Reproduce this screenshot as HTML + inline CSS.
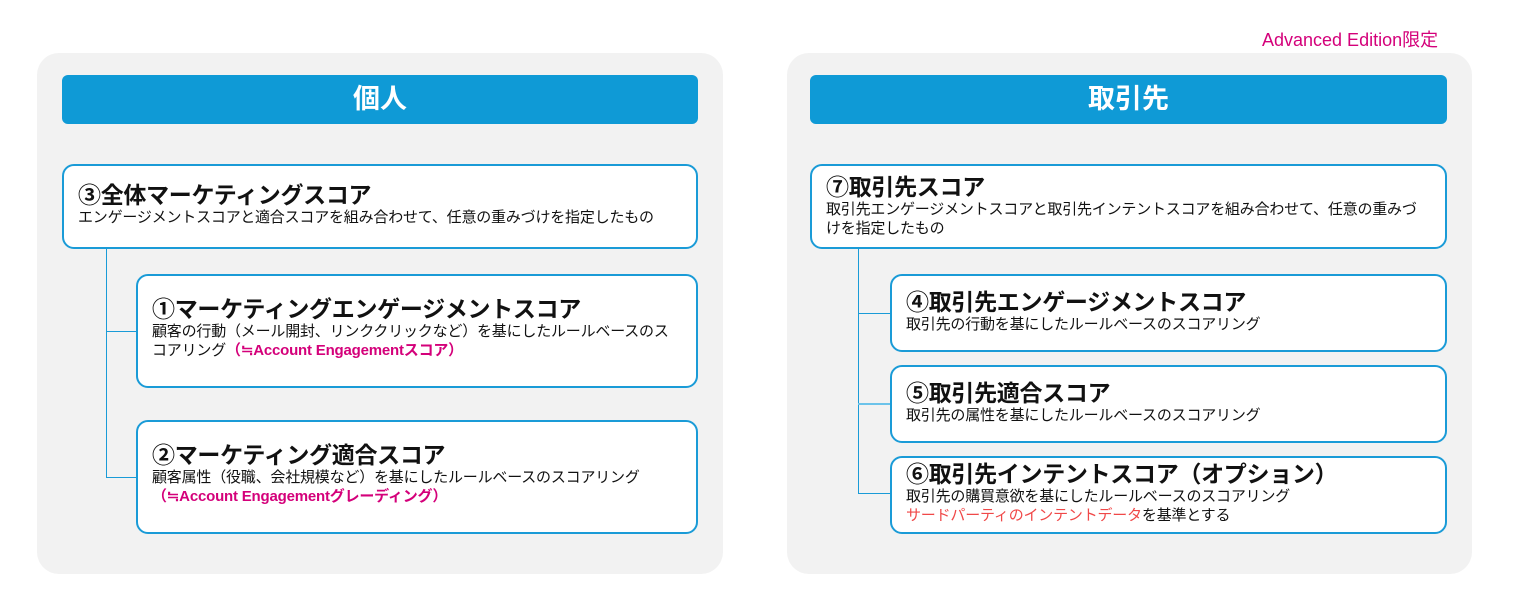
<!DOCTYPE html>
<html><head><meta charset="utf-8"><style>
body{margin:0;width:1524px;height:610px;background:#fff;position:relative;font-family:"Liberation Sans","Noto Sans CJK JP",sans-serif;overflow:hidden}
.a{position:absolute;box-sizing:border-box}
.panel{background:#f2f2f2;border-radius:22px}
.hd{background:#0f9ad6;border-radius:6px;color:#fff;font-weight:bold;font-size:27px;text-align:center;line-height:48px}
.bx{background:#fff;border:2px solid #1a9bd7;border-radius:12px;padding-left:14px;color:#111}
.t{font-weight:bold;font-size:23px;line-height:25px;white-space:nowrap;letter-spacing:-0.3px}
.d{font-size:15px;line-height:19px;letter-spacing:-0.2px}
.pk{color:#d4007a;font-weight:bold}
.rd{color:#f04848}
.ln{background:#1a9bd7}
</style></head><body>
<div class="a" style="left:1262px;top:26px;color:#d4007a;font-size:18px">Advanced Edition限定</div>
<div class="a panel" style="left:37px;top:53px;width:686px;height:521px"></div>
<div class="a panel" style="left:787px;top:53px;width:685px;height:521px"></div>
<div class="a hd" style="left:62px;top:75px;width:636px;height:49px">個人</div>
<div class="a hd" style="left:810px;top:75px;width:637px;height:49px">取引先</div>

<div class="a ln" style="left:106px;top:248px;width:1px;height:230px"></div>
<div class="a ln" style="left:106px;top:331px;width:30px;height:1px"></div>
<div class="a ln" style="left:106px;top:477px;width:30px;height:1px"></div>
<div class="a ln" style="left:858px;top:248px;width:1px;height:246px"></div>
<div class="a ln" style="left:858px;top:313px;width:32px;height:1px"></div>
<div class="a ln" style="left:858px;top:403px;width:32px;height:2px;background:#6cc3ea"></div>
<div class="a ln" style="left:858px;top:493px;width:32px;height:1px"></div>

<div class="a bx" style="left:62px;top:164px;width:636px;height:85px;padding-top:17px">
<div class="t">③全体マーケティングスコア</div><div class="d">エンゲージメントスコアと適合スコアを組み合わせて、任意の重みづけを指定したもの</div></div>
<div class="a bx" style="left:136px;top:274px;width:562px;height:114px;padding-top:21px;padding-right:20px">
<div class="t">①マーケティングエンゲージメントスコア</div><div class="d">顧客の行動（メール開封、リンククリックなど）を基にしたルールベースのスコアリング<span class="pk">（≒Account Engagementスコア）</span></div></div>
<div class="a bx" style="left:136px;top:420px;width:562px;height:114px;padding-top:21px">
<div class="t">②マーケティング適合スコア</div><div class="d">顧客属性（役職、会社規模など）を基にしたルールベースのスコアリング<br><span class="pk">（≒Account Engagementグレーディング）</span></div></div>

<div class="a bx" style="left:810px;top:164px;width:637px;height:85px;padding-top:9px;padding-right:20px">
<div class="t">⑦取引先スコア</div><div class="d">取引先エンゲージメントスコアと取引先インテントスコアを組み合わせて、任意の重みづけを指定したもの</div></div>
<div class="a bx" style="left:890px;top:274px;width:557px;height:78px;padding-top:14px">
<div class="t">④取引先エンゲージメントスコア</div><div class="d">取引先の行動を基にしたルールベースのスコアリング</div></div>
<div class="a bx" style="left:890px;top:365px;width:557px;height:78px;padding-top:14px">
<div class="t">⑤取引先適合スコア</div><div class="d">取引先の属性を基にしたルールベースのスコアリング</div></div>
<div class="a bx" style="left:890px;top:456px;width:557px;height:78px;padding-top:4px">
<div class="t">⑥取引先インテントスコア（オプション）</div><div class="d">取引先の購買意欲を基にしたルールベースのスコアリング<br><span class="rd">サードパーティのインテントデータ</span>を基準とする</div></div>
</body></html>
